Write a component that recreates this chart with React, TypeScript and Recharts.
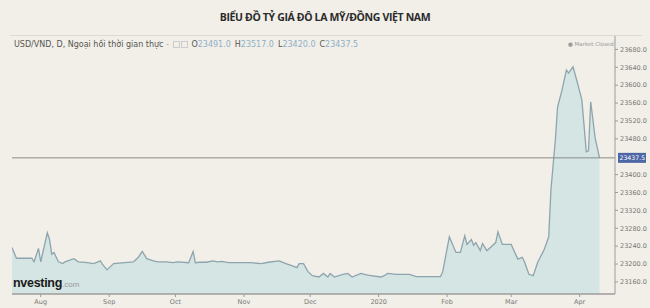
import React from 'react';
import { ComposedChart, Area, XAxis, YAxis, ReferenceLine } from 'recharts';

// daily USD/VND close
const dates = [
  '2019-07-19', '2019-07-21', '2019-07-28', '2019-07-29', '2019-07-31', '2019-08-01', '2019-08-04', '2019-08-05',
  '2019-08-06', '2019-08-07', '2019-08-09', '2019-08-11', '2019-08-12', '2019-08-16', '2019-08-18', '2019-08-22',
  '2019-08-25', '2019-08-28', '2019-08-29', '2019-08-31', '2019-09-03', '2019-09-08', '2019-09-12', '2019-09-14',
  '2019-09-16', '2019-09-18', '2019-09-21', '2019-09-23', '2019-09-27', '2019-09-30', '2019-10-02', '2019-10-07',
  '2019-10-09', '2019-10-10', '2019-10-12', '2019-10-15', '2019-10-18', '2019-10-20', '2019-10-22', '2019-10-25',
  '2019-10-30', '2019-11-04', '2019-11-09', '2019-11-12', '2019-11-17', '2019-11-20', '2019-11-23', '2019-11-25',
  '2019-11-26', '2019-11-28', '2019-11-30', '2019-12-02', '2019-12-05', '2019-12-07', '2019-12-09', '2019-12-10',
  '2019-12-12', '2019-12-15', '2019-12-18', '2019-12-20', '2019-12-24', '2019-12-27', '2020-01-02', '2020-01-04',
  '2020-01-05', '2020-01-09', '2020-01-15', '2020-01-18', '2020-01-29', '2020-01-30', '2020-02-02', '2020-02-05',
  '2020-02-07', '2020-02-09', '2020-02-10', '2020-02-12', '2020-02-13', '2020-02-14', '2020-02-16', '2020-02-17',
  '2020-02-19', '2020-02-23', '2020-02-24', '2020-02-26', '2020-03-01', '2020-03-03', '2020-03-04', '2020-03-06',
  '2020-03-07', '2020-03-09', '2020-03-11', '2020-03-13', '2020-03-16', '2020-03-18', '2020-03-19', '2020-03-21',
  '2020-03-22', '2020-03-24', '2020-03-26', '2020-03-27', '2020-03-29', '2020-03-31', '2020-04-02', '2020-04-04',
  '2020-04-05', '2020-04-06', '2020-04-08', '2020-04-10',
];

const rates = [
  23237, 23213, 23213, 23205, 23235, 23205, 23270, 23255,
  23222, 23226, 23205, 23201, 23205, 23212, 23205, 23203,
  23201, 23207, 23199, 23187, 23201, 23203, 23205, 23214,
  23228, 23212, 23207, 23205, 23205, 23203, 23205, 23203,
  23228, 23203, 23204, 23204, 23207, 23205, 23206, 23203,
  23203, 23203, 23201, 23204, 23207, 23201, 23196, 23192,
  23201, 23201, 23183, 23174, 23171, 23179, 23171, 23179,
  23171, 23176, 23179, 23171, 23179, 23175, 23171, 23175,
  23179, 23177, 23177, 23172, 23172, 23183, 23261, 23226,
  23226, 23263, 23244, 23255, 23242, 23248, 23230, 23246,
  23230, 23248, 23272, 23244, 23244, 23222, 23211, 23215,
  23205, 23177, 23174, 23204, 23233, 23261, 23366, 23478,
  23551, 23589, 23634, 23627, 23641, 23605, 23567, 23451,
  23453, 23563, 23482, 23437.5,
];

const monthTicks = ['2019-08-01', '2019-09-01', '2019-10-01', '2019-11-01', '2019-12-01', '2020-01-01', '2020-02-01', '2020-03-01', '2020-04-01'];
const monthLabels = ['Aug', 'Sep', 'Oct', 'Nov', 'Dec', '2020', 'Feb', 'Mar', 'Apr'];
const rateTicks = [23160, 23200, 23240, 23280, 23320, 23360, 23400, 23480, 23520, 23560, 23600, 23640, 23680];
const lastClose = 23437.5;
const ohlc = [
  ['O', '23491.0'],
  ['H', '23517.0'],
  ['L', '23420.0'],
  ['C', '23437.5'],
];

const toTime = (d: string) => Date.parse(d + 'T00:00:00Z');
const data = dates.map((d, i) => ({ t: toTime(d), rate: rates[i] }));
const tickTimes = monthTicks.map(toTime);

const font = '"DejaVu Sans", sans-serif';

const CloseTag = (props: any) => {
  const { viewBox } = props;
  if (!viewBox) return null;
  const x = viewBox.x + viewBox.width + 3;
  const y = viewBox.y;
  return (
    <g>
      <rect x={x} y={y - 5} width={28} height={10} fill="#4d67a6" />
      <text x={x + 1.5} y={y + 2.2} fontSize={6.2} fill="#ffffff" fontFamily={font}>
        {lastClose.toFixed(1)}
      </text>
    </g>
  );
};

const App = () => {
  return (
    <div style={{ position: 'fixed', left: 0, top: 0, width: 650, height: 308, background: '#f1efe7', fontFamily: font, overflow: 'hidden' }}>
      <div style={{ position: 'absolute', left: 0, top: 10, width: 650, textAlign: 'center', fontFamily: '"Open Sans", sans-serif', fontWeight: 700, fontSize: 10.5, letterSpacing: -0.35, color: '#2b2b2b' }}>
        BIỂU ĐỒ TỶ GIÁ ĐÔ LA MỸ/ĐỒNG VIỆT NAM
      </div>
      <div style={{ position: 'absolute', left: 10, top: 35, width: 632, height: 1, background: '#dcdad2' }} />
      <div style={{ position: 'absolute', left: 14, top: 40, fontSize: 8, color: '#555', whiteSpace: 'nowrap' }}>
        USD/VND, D, Ngoại hối thời gian thực
        <span style={{ color: '#aaa' }}> - </span>
        <span style={{ display: 'inline-block', width: 5, height: 5, border: '1px solid #ccc', marginLeft: 2, verticalAlign: 'middle' }} />
        <span style={{ display: 'inline-block', width: 5, height: 5, border: '1px solid #ccc', marginLeft: 1, marginRight: 3, verticalAlign: 'middle' }} />
        {ohlc.map(([k, v]) => (
          <span key={k} style={{ marginRight: 4 }}>
            <span style={{ color: '#555' }}>{k}</span>
            <span style={{ color: '#8fb0c8' }}>{v}</span>
          </span>
        ))}
      </div>
      <div style={{ position: 'absolute', left: 568, top: 41, fontSize: 5.5, color: '#9a9a9a', whiteSpace: 'nowrap' }}>● Market Closed</div>

      <ComposedChart width={650} height={308} data={data} margin={{ top: 36, right: 0, bottom: 0, left: 12 }} style={{ position: 'absolute', left: 0, top: 0 }}>
        <XAxis
          dataKey="t"
          type="number"
          scale="time"
          domain={[toTime('2019-07-19'), toTime('2020-04-17')]}
          allowDataOverflow
          ticks={tickTimes}
          tickFormatter={(v: number) => monthLabels[tickTimes.indexOf(v)]}
          height={14}
          tickSize={3}
          axisLine={{ stroke: '#9c9c9c', strokeWidth: 1.5 }}
          tickLine={{ stroke: '#9c9c9c' }}
          tick={{ fontSize: 6.5, fill: '#777', fontFamily: font }}
        />
        <YAxis
          orientation="right"
          width={35}
          domain={[23133, 23710]}
          allowDataOverflow
          ticks={rateTicks}
          tickFormatter={(v: number) => v.toFixed(1)}
          tickSize={3}
          axisLine={{ stroke: '#9c9c9c' }}
          tickLine={{ stroke: '#9c9c9c' }}
          tick={{ fontSize: 6.5, fill: '#777', fontFamily: font }}
        />
        <Area
          type="linear"
          dataKey="rate"
          stroke="#8ea4ae"
          strokeWidth={1.3}
          fill="#d4e5e3"
          fillOpacity={1}
          dot={false}
          activeDot={false}
          isAnimationActive={false}
        />
        <ReferenceLine y={lastClose} stroke="#8c8c8c" strokeWidth={1} label={<CloseTag />} />
      </ComposedChart>

      <div style={{ position: 'absolute', left: 13, top: 272, whiteSpace: 'nowrap' }}>
        <span style={{ fontFamily: '"Liberation Sans", sans-serif', fontWeight: 700, fontSize: 12.5, color: '#1a1a1a', letterSpacing: -0.3 }}>nvesting</span>
        <span style={{ fontFamily: '"Liberation Sans", sans-serif', fontSize: 8, color: '#9a9a9a' }}>.com</span>
      </div>
    </div>
  );
};

export default App;
